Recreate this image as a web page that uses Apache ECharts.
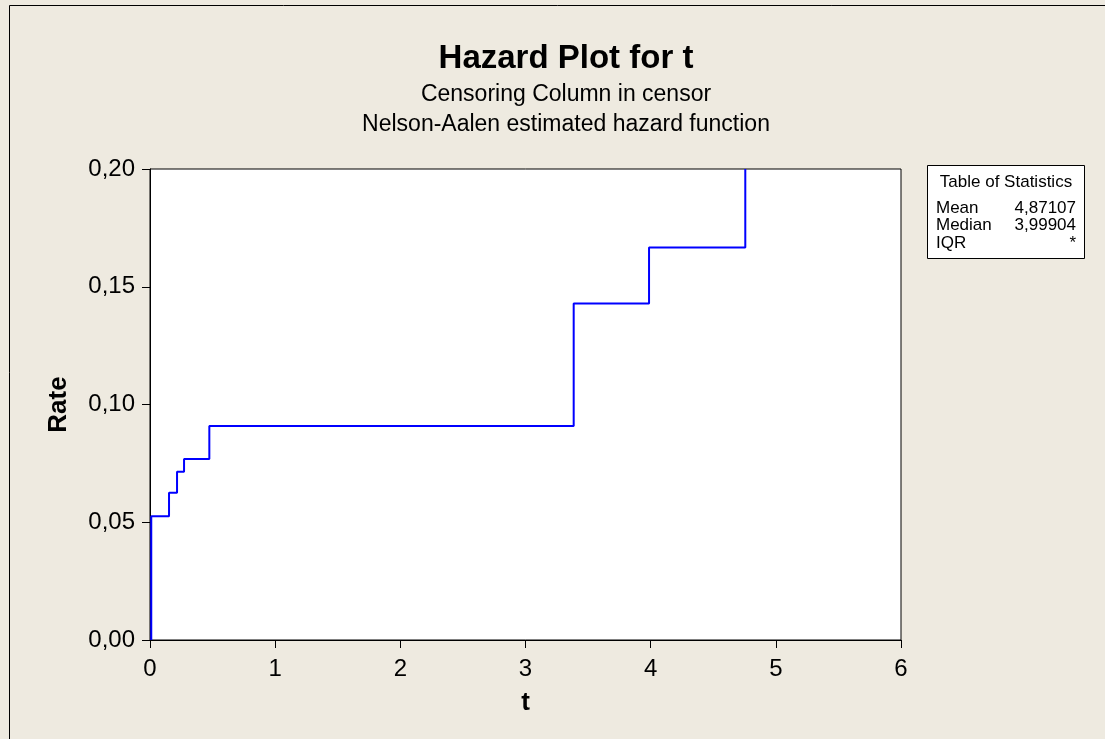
<!DOCTYPE html>
<html>
<head>
<meta charset="utf-8">
<script src="https://cdn.jsdelivr.net/npm/echarts@6/dist/echarts.min.js"></script>
<style>
  html, body { margin: 0; padding: 0; background: #EEEAE0; }
  #chart { width: 1105px; height: 739px; }
</style>
</head>
<body>
<div id="chart"></div>
<script>
// Nelson-Aalen hazard estimate: each rate holds from its event time until the next one
const eventTimes = [0.01, 0.152, 0.216, 0.272, 0.474, 3.385, 3.987, 4.756];
const hazardRates = [0.0526, 0.0625, 0.0714, 0.0769, 0.0909, 0.1429, 0.1667, 0.2000];
const startTime = 0.01;

const xTicks = [0, 1, 2, 3, 4, 5, 6];
const yTicks = [0, 0.05, 0.10, 0.15, 0.20];

const statNames = ['Mean', 'Median', 'IQR'];
const statValues = ['4,87107', '3,99904', '*'];

const FONT = '"Liberation Sans", Arial, sans-serif';

const lineData = [[startTime, 0]].concat(eventTimes.map((t, i) => [t, hazardRates[i]]));

const chart = echarts.init(document.getElementById('chart'), null, { renderer: 'canvas' });

// statistics table rows: name on the left, value right-aligned
const statGraphics = [];
statNames.forEach((n, i) => {
  const y = 208 + i * 17.8;
  statGraphics.push({
    type: 'text', x: 936, y: y,
    style: { text: n, font: '17px ' + FONT, fill: '#000', textAlign: 'left', textVerticalAlign: 'middle' }
  });
  statGraphics.push({
    type: 'text', x: 1076, y: y,
    style: { text: statValues[i], font: '17px ' + FONT, fill: '#000', textAlign: 'right', textVerticalAlign: 'middle' }
  });
});

chart.setOption({
  backgroundColor: '#EEEAE0',
  animation: false,
  textStyle: { fontFamily: FONT },
  title: {
    text: 'Hazard Plot for t',
    subtext: 'Censoring Column in censor\nNelson-Aalen estimated hazard function',
    left: 561,
    textAlign: 'center',
    top: 37,
    itemGap: 5,
    textStyle: { fontFamily: FONT, fontSize: 33, fontWeight: 'bold', color: '#000', lineHeight: 33 },
    subtextStyle: { fontFamily: FONT, fontSize: 23, color: '#000', lineHeight: 30 }
  },
  grid: {
    left: 150, top: 169, width: 751, height: 471,
    show: true, backgroundColor: '#FFFFFF', borderColor: '#000', borderWidth: 1
  },
  xAxis: {
    type: 'value', min: xTicks[0], max: xTicks[xTicks.length - 1], interval: 1,
    name: 't', nameLocation: 'middle', nameGap: 50,
    nameTextStyle: { fontFamily: FONT, fontSize: 26, fontWeight: 'bold', color: '#000' },
    axisLine: { show: true, lineStyle: { color: '#000', width: 1 } },
    axisTick: { show: true, inside: false, length: 8, lineStyle: { color: '#000' } },
    axisLabel: { fontFamily: FONT, fontSize: 24, color: '#000', margin: 17 },
    splitLine: { show: false }
  },
  yAxis: {
    type: 'value', min: yTicks[0], max: yTicks[yTicks.length - 1], interval: 0.05,
    name: 'Rate', nameLocation: 'middle', nameGap: 78, nameRotate: 90,
    nameTextStyle: { fontFamily: FONT, fontSize: 26, fontWeight: 'bold', color: '#000' },
    axisLine: { show: true, lineStyle: { color: '#000', width: 1 } },
    axisTick: { show: true, inside: false, length: 8, lineStyle: { color: '#000' } },
    axisLabel: {
      fontFamily: FONT, fontSize: 24, color: '#000', margin: 15,
      formatter: v => v.toFixed(2).replace('.', ',')
    },
    splitLine: { show: false }
  },
  series: [{
    type: 'line',
    step: 'end',
    data: lineData,
    symbol: 'none',
    clip: true,
    lineStyle: { color: '#0000FF', width: 2 }
  }],
  graphic: [
    // frame edges of the graph region
    { type: 'line', shape: { x1: 9.5, y1: 5.5, x2: 1105, y2: 5.5 }, style: { stroke: '#000', lineWidth: 1 } },
    { type: 'line', shape: { x1: 9.5, y1: 5.5, x2: 9.5, y2: 739 }, style: { stroke: '#000', lineWidth: 1 } },
    // statistics table
    { type: 'rect', shape: { x: 927.5, y: 165.5, width: 157, height: 93 },
      style: { fill: '#FFFFFF', stroke: '#000', lineWidth: 1 } },
    { type: 'text', x: 1006, y: 182,
      style: { text: 'Table of Statistics', font: '17px ' + FONT, fill: '#000',
               textAlign: 'center', textVerticalAlign: 'middle' } }
  ].concat(statGraphics)
});
</script>
</body>
</html>
